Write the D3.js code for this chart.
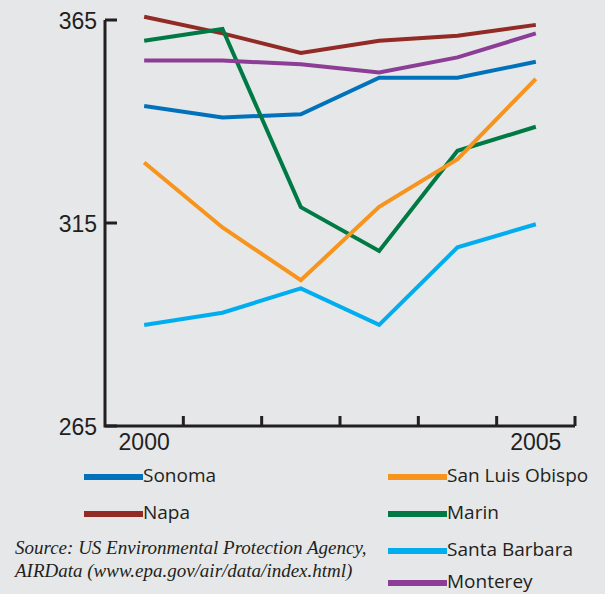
<!DOCTYPE html>
<meta charset="utf-8">
<script src="https://d3js.org/d3.v7.min.js"></script>
<style>
  body { margin: 0; background: #e6e7e8; }
</style>
<svg id="chart"></svg>
<script>

// years on the x axis
const years = [2000, 2001, 2002, 2003, 2004, 2005];

// series values
const sonoma        = [343.8, 341.0, 341.8, 350.8, 350.8, 354.7];
const napa          = [365.8, 361.7, 356.9, 359.9, 361.1, 363.8];
const marin         = [359.9, 362.8, 318.9, 308.1, 332.8, 338.7];
const monterey      = [355.0, 355.0, 354.1, 352.1, 355.8, 361.7];
const sanLuisObispo = [329.9, 313.9, 300.9, 319.0, 330.7, 350.5];
const santaBarbara  = [289.9, 292.9, 298.9, 289.9, 309.0, 314.7];

const yTicks = [265, 315, 365];
const xLabels = [2000, 2005];
const source = ["Source: US Environmental Protection Agency,",
                "AIRData (www.epa.gov/air/data/index.html)"];

const series = [
  {name: "Sonoma",          values: sonoma,        color: "#0072bc"},
  {name: "Napa",            values: napa,          color: "#922a25"},
  {name: "Marin",           values: marin,         color: "#007a45"},
  {name: "Monterey",        values: monterey,      color: "#8c3d96"},
  {name: "San Luis Obispo", values: sanLuisObispo, color: "#f7941d"},
  {name: "Santa Barbara",   values: santaBarbara,  color: "#00aeef"}
];

const width = 605, height = 594;
const svg = d3.select("#chart").attr("width", width).attr("height", height);

svg.append("rect").attr("width", width).attr("height", height).attr("fill", "#e6e7e8");

const x = d3.scaleLinear().domain([1999.5, 2005.5]).range([105, 575]);
const y = d3.scaleLinear().domain([265, 365]).range([426, 20]);

// axes
const axisColor = "#231f20";
svg.append("path")
    .attr("d", `M${x(1999.5)},${y(365)}V${y(265)}H${x(2005.5)}`)
    .attr("fill", "none").attr("stroke", axisColor).attr("stroke-width", 3);

svg.selectAll(".ytick").data(yTicks).enter().append("line")
    .attr("x1", x(1999.5)).attr("x2", x(1999.5) + 12)
    .attr("y1", d => y(d)).attr("y2", d => y(d))
    .attr("stroke", axisColor).attr("stroke-width", 3);

svg.selectAll(".xtick").data(d3.range(2000.5, 2006, 1)).enter().append("line")
    .attr("x1", d => x(d)).attr("x2", d => x(d))
    .attr("y1", y(265)).attr("y2", y(265) - 10)
    .attr("stroke", axisColor).attr("stroke-width", 3);

svg.selectAll(".ylab").data(yTicks).enter().append("text")
    .attr("x", 97).attr("y", d => y(d)).attr("dy", "0.38em")
    .attr("text-anchor", "end")
    .style("font-family", "'Liberation Sans', Arial, sans-serif")
    .style("font-size", "23px").attr("fill", axisColor)
    .text(d => d);

svg.selectAll(".xlab").data(xLabels).enter().append("text")
    .attr("x", d => x(d)).attr("y", 450)
    .attr("text-anchor", "middle")
    .style("font-family", "'Liberation Sans', Arial, sans-serif")
    .style("font-size", "23px").attr("fill", axisColor)
    .text(d => d);

// lines
const line = d3.line().x((d, i) => x(years[i])).y(d => y(d));
svg.selectAll(".series").data(series).enter().append("path")
    .attr("d", d => line(d.values))
    .attr("fill", "none")
    .attr("stroke", d => d.color)
    .attr("stroke-width", 4);

// legend
const legendPos = {
  "Sonoma":          [84, 477],
  "Napa":            [84, 514],
  "San Luis Obispo": [388, 477],
  "Marin":           [388, 514],
  "Santa Barbara":   [388, 551],
  "Monterey":        [388, 583]
};
const leg = svg.selectAll(".leg").data(series).enter().append("g")
    .attr("transform", d => `translate(${legendPos[d.name][0]},${legendPos[d.name][1]})`);
leg.append("line").attr("x1", 0).attr("x2", 59)
    .attr("stroke", d => d.color).attr("stroke-width", 6);
leg.append("text").attr("x", 59).attr("y", 5)
    .style("font-family", "'Open Sans', sans-serif")
    .style("font-size", "19px").attr("fill", axisColor)
    .text(d => d.name);

// source note
svg.selectAll(".src").data(source).enter().append("text")
    .attr("x", 15).attr("y", (d, i) => 554 + i * 22.5)
    .style("font-family", "'Liberation Serif', 'Times New Roman', serif")
    .style("font-style", "italic")
    .style("font-size", "19px").attr("fill", axisColor)
    .text(d => d);

</script>
